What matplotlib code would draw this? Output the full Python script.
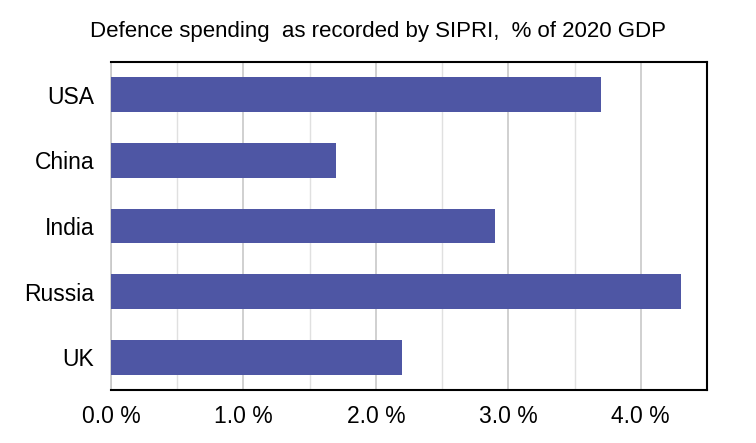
import matplotlib.pyplot as plt
from matplotlib.ticker import MultipleLocator, FuncFormatter

plt.rcParams['font.family'] = ['Liberation Sans', 'DejaVu Sans']

countries = ["USA", "China", "India", "Russia", "UK"]
spending = [3.7, 1.7, 2.9, 4.3, 2.2]
bar_color = "#4E56A4"

fig = plt.figure(figsize=(7.56, 4.43), dpi=100)
ax = fig.add_axes([111 / 756, 1 - 390 / 443, (707 - 111) / 756, (390 - 62) / 443])

ypos = list(range(len(countries)))
ax.barh(ypos, spending, height=0.53, color=bar_color, zorder=3)
ax.set_yticks(ypos)
ax.set_yticklabels(countries)
ax.set_ylim(len(countries) - 0.5, -0.5)
ax.set_xlim(0, 4.5)

ax.xaxis.set_major_locator(MultipleLocator(1.0))
ax.xaxis.set_minor_locator(MultipleLocator(0.5))
ax.xaxis.set_major_formatter(FuncFormatter(lambda v, p: f"{v:.1f} %"))
ax.grid(axis="x", which="major", color="#c8c8c8", linewidth=1.2, zorder=0)
ax.grid(axis="x", which="minor", color="#e0e0e0", linewidth=1.0, zorder=0)
ax.tick_params(axis="both", which="both", length=0, labelsize=16.5, colors="black")
ax.tick_params(axis="x", pad=11)
ax.tick_params(axis="y", pad=12)

for side in ["top", "right", "bottom"]:
    ax.spines[side].set_color("black")
    ax.spines[side].set_linewidth(1.5)
ax.spines["left"].set_color("#c8c8c8")
ax.spines["left"].set_linewidth(1.2)

fig.text(0.5, 1 - 31 / 443, "Defence spending  as recorded by SIPRI,  % of 2020 GDP",
         ha="center", va="center", fontsize=16)

fig.savefig("out.png", dpi=100)
